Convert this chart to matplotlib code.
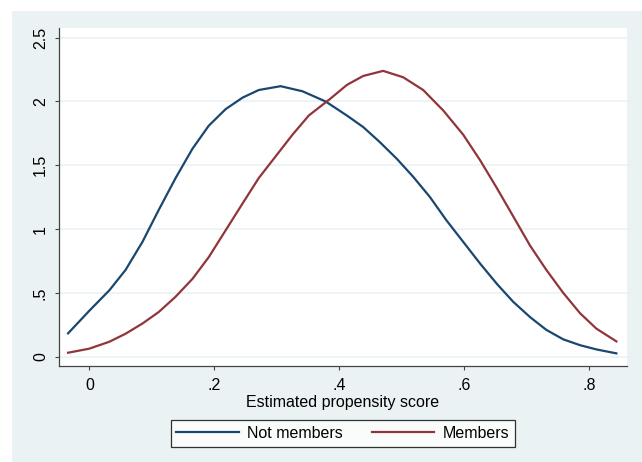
import matplotlib
matplotlib.use('Agg')
import matplotlib.pyplot as plt
from matplotlib.patches import Rectangle

plt.rcParams['font.family'] = ['Liberation Sans', 'DejaVu Sans']

# density of estimated propensity score
x_not = [-0.034, 0.0, 0.032, 0.058, 0.085, 0.111, 0.138, 0.165, 0.191, 0.218,
         0.245, 0.271, 0.306, 0.341, 0.378, 0.412, 0.438, 0.465, 0.492, 0.518,
         0.545, 0.571, 0.598, 0.625, 0.652, 0.678, 0.705, 0.731, 0.758, 0.785,
         0.811, 0.843]
y_not = [0.183, 0.36, 0.52, 0.68, 0.90, 1.15, 1.40, 1.63, 1.81, 1.94,
         2.03, 2.09, 2.12, 2.08, 2.00, 1.89, 1.80, 1.68, 1.55, 1.41,
         1.25, 1.07, 0.90, 0.73, 0.57, 0.43, 0.31, 0.21, 0.136, 0.09,
         0.057, 0.026]

x_mem = [-0.034, 0.0, 0.032, 0.058, 0.085, 0.111, 0.138, 0.165, 0.191, 0.218,
         0.245, 0.271, 0.298, 0.325, 0.351, 0.385, 0.412, 0.438, 0.470, 0.502,
         0.534, 0.566, 0.598, 0.625, 0.652, 0.678, 0.705, 0.731, 0.758, 0.785,
         0.811, 0.843]
y_mem = [0.031, 0.063, 0.117, 0.18, 0.26, 0.35, 0.47, 0.61, 0.78, 0.99,
         1.20, 1.40, 1.57, 1.74, 1.89, 2.02, 2.13, 2.20, 2.24, 2.19,
         2.09, 1.93, 1.74, 1.54, 1.32, 1.10, 0.87, 0.68, 0.50, 0.34,
         0.22, 0.12]

x_ticks = [0, 0.2, 0.4, 0.6, 0.8]
x_ticklabels = ['0', '.2', '.4', '.6', '.8']
y_ticks = [0, 0.5, 1, 1.5, 2, 2.5]
y_ticklabels = ['0', '.5', '1', '1.5', '2', '2.5']

bg = '#eaf2f3'
navy = '#1a476f'
maroon = '#90353b'

fig = plt.figure(figsize=(6.42, 4.62), dpi=100)
fig.patch.set_facecolor('white')
# stata style outer panel
fig.patches.append(Rectangle((12 / 642, 0), 1 - 12 / 642, 1 - 11 / 462,
                             transform=fig.transFigure, facecolor=bg,
                             edgecolor='none', zorder=-10))

ax = fig.add_axes([59 / 642, 1 - 366 / 462, 568 / 642, 338 / 462])
ax.set_facecolor('white')

ax.plot(x_not, y_not, color=navy, lw=1.6, label='Not members')
ax.plot(x_mem, y_mem, color=maroon, lw=1.6, label='Members')

ax.set_xlim(-0.0485, 0.860)
ax.set_ylim(-0.073, 2.576)
ax.set_xticks(x_ticks)
ax.set_xticklabels(x_ticklabels)
ax.set_yticks(y_ticks)
ax.set_yticklabels(y_ticklabels, rotation=90, va='center')
ax.yaxis.grid(True, color=bg, lw=1.2)
ax.set_axisbelow(True)

for s in ['top', 'right']:
    ax.spines[s].set_visible(False)
for s in ['left', 'bottom']:
    ax.spines[s].set_color('#444444')
    ax.spines[s].set_linewidth(0.9)

ax.tick_params(axis='both', direction='out', length=3, width=0.8,
               color='#444444', labelsize=11.5, labelcolor='black')
ax.tick_params(axis='x', pad=6)
ax.tick_params(axis='y', pad=5)
ax.set_xlabel('Estimated propensity score', fontsize=11.5, labelpad=1)

leg = fig.legend(loc='center', bbox_to_anchor=(343 / 642, 1 - 433.5 / 462),
                 ncol=2, fontsize=11.5, frameon=True, fancybox=False,
                 handlelength=3.9, handletextpad=0.55, columnspacing=1.8,
                 borderpad=0.35)
leg.get_frame().set_edgecolor('black')
leg.get_frame().set_linewidth(0.9)

fig.savefig('out.png', dpi=100)
